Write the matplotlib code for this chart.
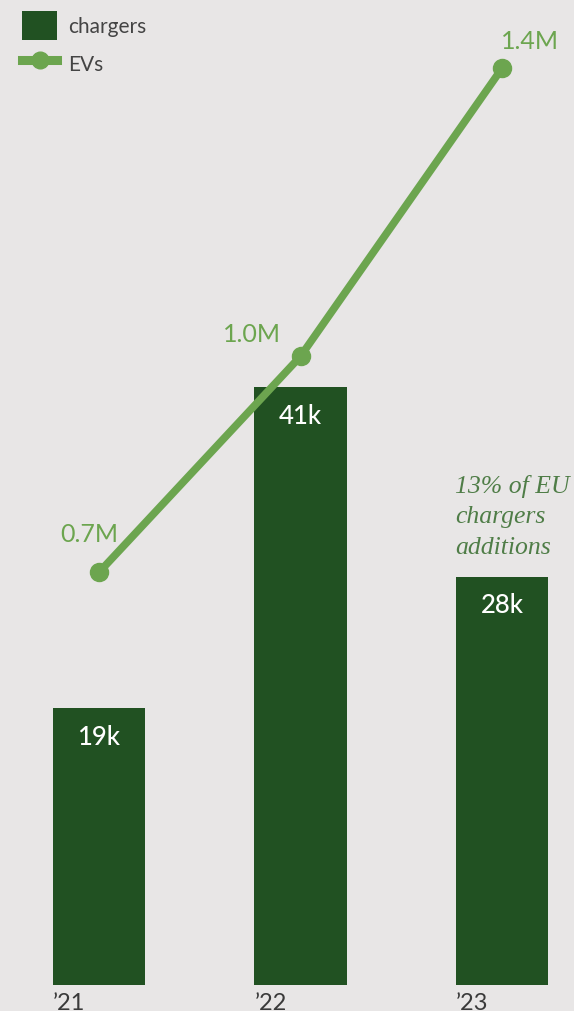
import numpy as np
import matplotlib
matplotlib.use("Agg")
import matplotlib.pyplot as plt
from matplotlib.patches import Patch
from matplotlib.lines import Line2D

years = ["’21", "’22", "’23"]
chargers_k = [19, 41, 28]
evs_m = [0.7, 1.0, 1.4]
charger_labels = ["19k", "41k", "28k"]
ev_labels = ["0.7M", "1.0M", "1.4M"]

bg = "#e8e6e6"
dark_green = "#215122"
light_green = "#6ca54f"
note_green = "#4f7d47"

plt.rcParams["font.family"] = ["Lato", "DejaVu Sans"]

fig = plt.figure(figsize=(5.74, 10.11), dpi=100, facecolor=bg)
ax = fig.add_axes([0, 26 / 1011, 1, 985 / 1011])
ax.set_facecolor(bg)

x = np.arange(len(years))
width = 0.457
bars = ax.bar(x, chargers_k, width=width, color=dark_green, zorder=1)
ax.set_xlim(-0.491, 2.357)
ax.set_ylim(0, 67.56)
for s in ax.spines.values():
    s.set_visible(False)
ax.set_yticks([])
ax.set_xticks(x - width / 2, years)
for t in ax.get_xticklabels():
    t.set_ha("left")
ax.tick_params(axis="x", length=0, pad=6, labelsize=17, labelcolor="#3a3a3a")

# bar values inside the top of each bar
for xi, v, lab in zip(x, chargers_k, charger_labels):
    ax.annotate(lab, (xi, v), xytext=(0, -21), textcoords="offset points",
                ha="center", va="center", color="white", fontsize=18.5,
                fontweight="medium")

# EV line on its own scale
ax2 = ax.twinx()
ax2.set_ylim(0.127, 1.4948)
ax2.set_yticks([])
for s in ax2.spines.values():
    s.set_visible(False)
ax2.plot(x, evs_m, color=light_green, lw=5.5, marker="o", ms=13,
         solid_capstyle="round", zorder=3)
offsets = [(-7, 27), (-35, 16), (20, 19)]
for xi, v, lab, off in zip(x, evs_m, ev_labels, offsets):
    ax2.annotate(lab, (xi, v), xytext=off, textcoords="offset points",
                 ha="center", va="center", color=light_green, fontsize=18)

fig.text(455 / 574, 1 - 517 / 1011, "13% of EU\nchargers\nadditions",
         ha="left", va="center", color=note_green, fontsize=18.5,
         family="Liberation Serif", style="italic", linespacing=1.5)

handles = [Patch(facecolor=dark_green),
           Line2D([], [], color=light_green, lw=6.5, marker="o", ms=12)]
fig.legend(handles, ["chargers", "EVs"], loc="upper left",
           bbox_to_anchor=(0.0217, 0.998), frameon=False, fontsize=15,
           labelcolor="#444444", handlelength=1.7, handleheight=1.75,
           handletextpad=0.5, labelspacing=0.45, borderaxespad=0.05)

fig.savefig("out.png", dpi=100, facecolor=bg)
